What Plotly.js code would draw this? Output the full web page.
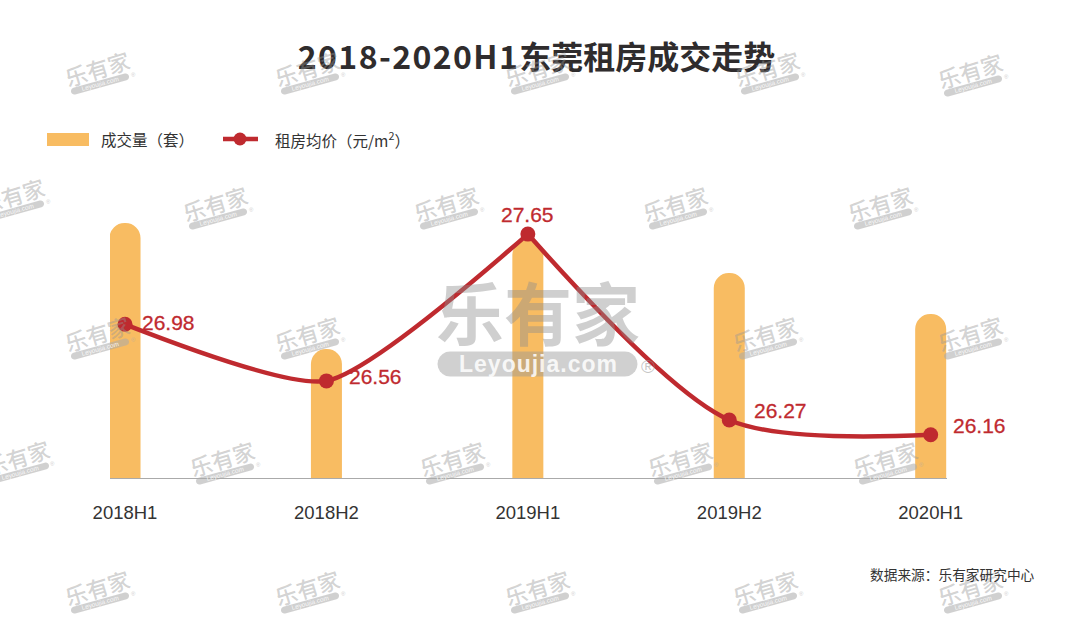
<!DOCTYPE html>
<html>
<head>
<meta charset="utf-8">
<script src="https://cdn.plot.ly/plotly-3.0.1.min.js"></script>
<style>html,body{margin:0;padding:0;background:#fff}</style>
</head>
<body>
<div id="chart" style="width:1080px;height:622px"></div>
<script>
const periods = ['2018H1','2018H2','2019H1','2019H2','2020H1'];
const volume = [255,129,238,205,164];
const rentPrice = [26.98,26.56,27.65,26.27,26.16];
const labelOffsets = [[43,-2],[49,-4],[0,-20],[51,-9],[49,-9]];
const titleText = '<span style="letter-spacing:1.4px">2018-2020H1</span>东莞租房成交走势';
const sourceText = '数据来源：乐有家研究中心';
const watermarkSpots = [
  [97,68],[307,68],[537,68],[767,68],[970,70],
  [12,195],[215,203],[446,203],[675,203],[880,203],
  [97,333],[307,333],[765,333],[970,333],
  [17,457],[222,458],[452,458],[680,458],[885,458],
  [97,587],[307,587],[537,587],[765,587],[970,587]
];

const L=110,T=200,W=837,H=278;
const px=x=>(x-L)/W, py=y=>(T+H-y)/H;
const cjk='"Noto Sans CJK SC","Noto Sans",sans-serif';
const latin='"Liberation Sans",Arial,sans-serif';
const red='#bf2a2f', orange='#f8bc62', ink='#333333';

function pillPath(cx,cy,len,r,deg){
  const a=deg*Math.PI/180, pts=[];
  const h=len/2-r;
  for(let i=0;i<=10;i++){const t=-Math.PI/2+Math.PI*i/10;pts.push([h+r*Math.cos(t),r*Math.sin(t)]);}
  for(let i=0;i<=10;i++){const t=Math.PI/2+Math.PI*i/10;pts.push([-h+r*Math.cos(t),r*Math.sin(t)]);}
  return 'M'+pts.map(p=>{
    const X=cx+p[0]*Math.cos(a)-p[1]*Math.sin(a), Y=cy+p[0]*Math.sin(a)+p[1]*Math.cos(a);
    return px(X).toFixed(4)+','+py(Y).toFixed(4);
  }).join('L')+'Z';
}
function note(x,y,text,size,color,extra){
  return Object.assign({xref:'paper',yref:'paper',x:px(x),y:py(y),text:text,showarrow:false,
    xanchor:'center',yanchor:'middle',font:{family:cjk,size:size,color:color}},extra||{});
}

const shapes=[], annotations=[];
watermarkSpots.forEach(([x,y])=>{
  annotations.push(note(x,y,'乐有家',22,'rgba(150,150,150,0.42)',{textangle:-17,font:{family:cjk,size:22,color:'rgba(150,150,150,0.42)',weight:500}}));
  shapes.push({type:'path',xref:'paper',yref:'paper',layer:'above',path:pillPath(x+3,y+16,60,3.4,-15.5),
    fillcolor:'rgba(170,170,170,0.55)',line:{width:0}});
  annotations.push(note(x+3,y+16,'Leyoujia.com',6.5,'#fff',{textangle:-15.5,font:{family:latin,size:6.5,color:'rgba(255,255,255,0.9)'}}));
  annotations.push(note(x+36,y+7,'®',6,'#aaa',{font:{family:latin,size:6,color:'rgba(170,170,170,0.6)'}}));
});
// large central watermark
annotations.push(note(538,310,'乐有家',68,'#999',{font:{family:cjk,size:68,color:'rgba(140,140,140,0.42)',weight:700}}));
shapes.push({type:'path',xref:'paper',yref:'paper',layer:'above',path:pillPath(537.5,364,200,12.5,0),
  fillcolor:'rgba(150,150,150,0.45)',line:{width:0}});
annotations.push(note(538,364,'<span style="letter-spacing:1px">Leyoujia.com</span>',23,'#fff',{font:{family:latin,size:23,color:'rgba(255,255,255,0.85)',weight:700}}));
annotations.push(note(648,366,'®',19,'#aaa',{font:{family:latin,size:19,color:'rgba(150,150,150,0.55)'}}));

// legend
shapes.push({type:'rect',xref:'paper',yref:'paper',x0:px(47),x1:px(89),y0:py(146),y1:py(133),fillcolor:orange,line:{width:0}});
shapes.push({type:'line',xref:'paper',yref:'paper',x0:px(223),x1:px(258),y0:py(139),y1:py(139),line:{color:red,width:4.5}});
shapes.push({type:'circle',xref:'paper',yref:'paper',x0:px(233.5),x1:px(246.5),y0:py(132.5),y1:py(145.5),fillcolor:red,line:{width:0}});
annotations.push(note(99,138.5,'成交量（套）',15.5,ink,{xanchor:'left'}));
annotations.push(note(273,138.5,'租房均价（元/m<sup>2</sup>）',15.5,ink,{xanchor:'left'}));
annotations.push(note(1037,574,sourceText,13.7,ink,{xanchor:'right'}));

// value labels
rentPrice.forEach((v,i)=>{
  annotations.push({xref:'x',yref:'y2',x:periods[i],y:v,
    text:'<span style="stroke:'+red+';stroke-width:0.3px">'+v.toFixed(2)+'</span>',showarrow:false,
    xshift:labelOffsets[i][0],yshift:-labelOffsets[i][1],xanchor:'center',yanchor:'middle',
    font:{family:latin,size:21,color:red}});
});

// the line has a sharp corner at the 2019H1 peak, so it is drawn as two spline runs meeting there
const traces=[
  {type:'bar',name:'成交量（套）',x:periods,y:volume,width:0.154,marker:{color:orange},yaxis:'y',hoverinfo:'skip'},
  {type:'scatter',mode:'lines',name:'租房均价（元/m²）',x:periods.slice(0,3),y:rentPrice.slice(0,3),yaxis:'y2',
    line:{color:red,width:4.5,shape:'spline',smoothing:0.6},hoverinfo:'skip'},
  {type:'scatter',mode:'lines',name:'租房均价（元/m²）',x:periods.slice(2),y:rentPrice.slice(2),yaxis:'y2',
    line:{color:red,width:4.5,shape:'spline',smoothing:0.8},hoverinfo:'skip'},
  {type:'scatter',mode:'markers',name:'租房均价（元/m²）',x:periods,y:rentPrice,yaxis:'y2',marker:{color:red,size:15},hoverinfo:'skip'}
];
const layout={
  width:1080,height:622,margin:{l:L,r:1080-L-W,t:T,b:622-T-H},
  paper_bgcolor:'#fff',plot_bgcolor:'rgba(0,0,0,0)',showlegend:false,barcornerradius:15,
  title:{text:titleText,x:536.5/1080,xanchor:'center',y:1-58/622,yanchor:'middle',font:{family:cjk,size:32,color:'#2f2c2d',weight:700}},
  xaxis:{type:'category',categoryorder:'array',categoryarray:periods,range:[-0.0745,4.081],
    showgrid:false,zeroline:false,showline:true,linecolor:'#aaaaaa',linewidth:1,ticks:'',
    ticklabelstandoff:18,tickfont:{family:latin,size:18.5,color:ink}},
  yaxis:{range:[0,278],visible:false,fixedrange:true},
  yaxis2:{range:[25.839,27.903],overlaying:'y',side:'right',visible:false,fixedrange:true},
  shapes:shapes,annotations:annotations
};
Plotly.newPlot('chart',traces,layout,{displayModeBar:false,staticPlot:true});
</script>
</body>
</html>
